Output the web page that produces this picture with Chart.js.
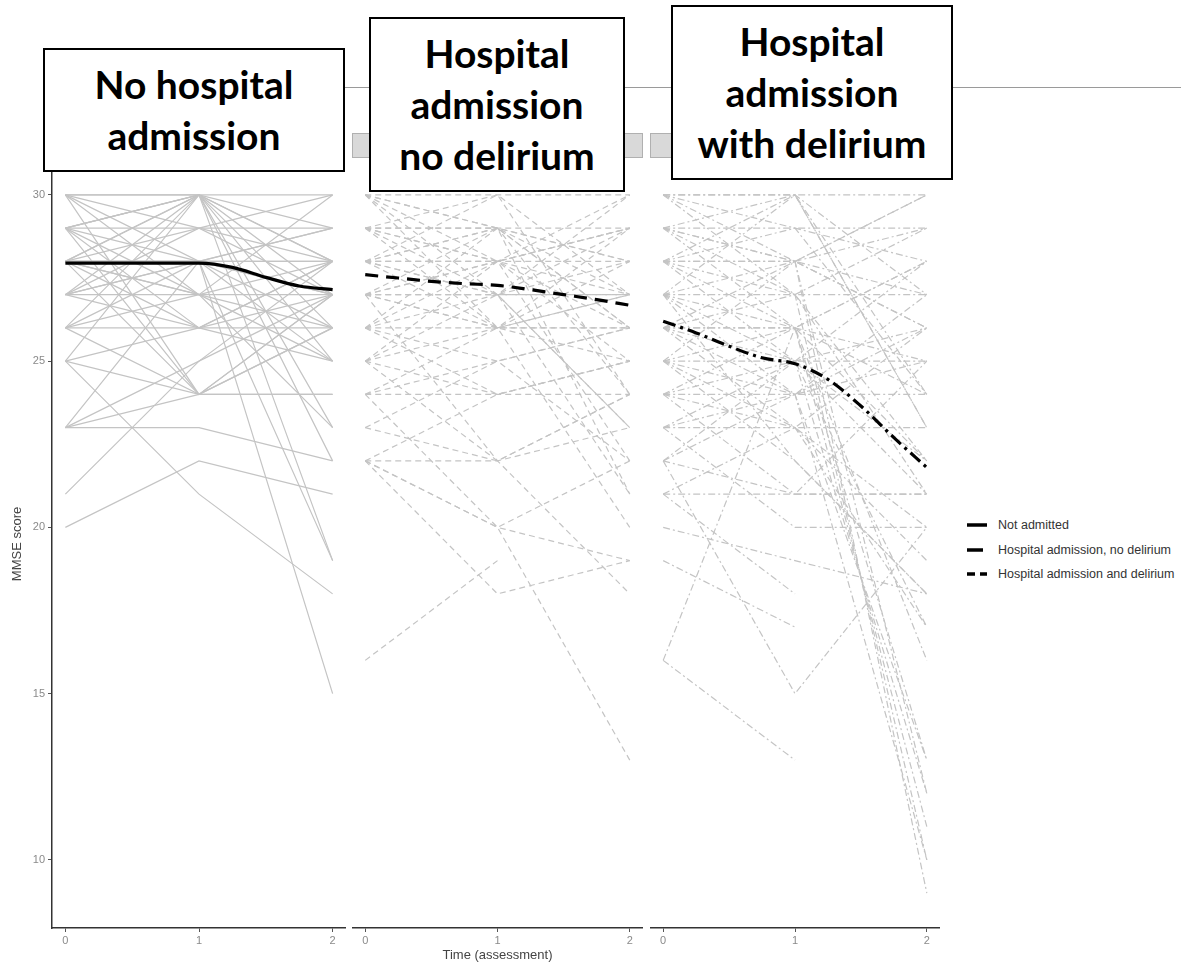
<!DOCTYPE html>
<html><head><meta charset="utf-8">
<script src="https://cdn.jsdelivr.net/npm/chart.js@4/dist/chart.umd.min.js"></script>
<style>
html,body{margin:0;padding:0;background:#fff;width:1181px;height:972px;overflow:hidden;position:relative;font-family:'Liberation Sans',Arial,sans-serif}
.cv{position:absolute;top:150px}
.strip{position:absolute;top:133px;height:25px;background:#d9d9d9;border:1px solid #b0b0b0;box-sizing:border-box}
.hline{position:absolute;left:345px;width:836px;top:87px;height:1px;background:#9a9a9a}
.box{position:absolute;background:#fff;border:2px solid #000;box-sizing:border-box;display:flex;align-items:center;justify-content:center;text-align:center;font-family:Lato,'Open Sans',sans-serif;font-weight:700;font-size:39px;line-height:51px;color:#000;z-index:5}
.leg{position:absolute;left:966px;font-size:12.5px;color:#333;height:16px;line-height:16px;white-space:nowrap}
.leg svg{position:absolute;left:0;top:3px}
.leg span{position:absolute;left:32px;top:0}
</style></head>
<body>
<div class="hline"></div>
<div class="strip" style="left:52px;width:292px"></div>
<div class="strip" style="left:352px;width:291px"></div>
<div class="strip" style="left:650px;width:290px"></div>
<canvas id="p1" class="cv" style="left:0px" width="346" height="822"></canvas>
<canvas id="p2" class="cv" style="left:352px" width="291" height="822"></canvas>
<canvas id="p3" class="cv" style="left:650px" width="290" height="822"></canvas>
<div class="box" style="left:43px;top:48px;width:302px;height:124px">No hospital<br>admission</div>
<div class="box" style="left:369px;top:17px;width:256px;height:175px">Hospital<br>admission<br>no delirium</div>
<div class="box" style="left:671px;top:5px;width:282px;height:175px">Hospital<br>admission<br>with delirium</div>
<div class="leg" style="top:517px"><svg width="24" height="10"><line x1="1" y1="5" x2="21" y2="5" stroke="#000" stroke-width="3.5"/></svg><span>Not admitted</span></div>
<div class="leg" style="top:542px"><svg width="24" height="10"><line x1="1" y1="5" x2="17" y2="5" stroke="#000" stroke-width="3.5"/></svg><span>Hospital admission, no delirium</span></div>
<div class="leg" style="top:566px"><svg width="24" height="10"><line x1="1" y1="5" x2="21" y2="5" stroke="#000" stroke-width="3.5" stroke-dasharray="8,5"/></svg><span>Hospital admission and delirium</span></div>
<script>
const timePoints = [0, 1, 2];
const xTicks = [0, 1, 2];
const yTicks = [10, 15, 20, 25, 30];

// individual MMSE trajectories (time 0, 1, 2)
const notAdmitted = [
  [30,30,30],[30,29,28],[30,28,29],[30,30,27],[30,27,25],[30,24,26],
  [29,29,29],[29,30,28],[29,28,27],[29,27,26],[29,30,25],[29,26,28],[29,30,19],[29,24,27],
  [28,28,28],[28,30,29],[28,28,27],[28,27,30],[28,24,24],[28,26,25],[28,28,15],[28,29,27],[28,30,26],[28,28,19],[28,27,23],
  [27,27,27],[27,29,30],[27,28,26],[27,26,28],[27,30,23],[27,28,25],
  [26,26,26],[26,28,29],[26,27,28],[26,30,22],[26,24,27],
  [25,26,27],[25,21,18],[25,30,28],[25,24,26],
  [23,23,22],[23,24,24],[23,25,27],[23,28,28],
  [21,25,28],[20,22,21]
];
const admittedNoDelirium = [
  [30,30,30],[30,29,28],[30,28,29],[30,27,30],[30,29,26],[30,26,25],
  [29,29,29],[29,30,27],[29,28,26],[29,27,28],[29,26,29],[29,29,24],[29,28,22],
  [28,28,28],[28,29,27],[28,27,29],[28,26,26],[28,30,24],[28,28,30],[28,29,21],[28,27,27],
  [27,27,27],[27,28,25],[27,29,26],[27,26,28],[27,28,29],[27,27,23],[27,26,20],
  [26,26,27],[26,27,23],[26,28,29],[26,29,28],[26,24,25],[26,25,26],
  [25,26,26],[25,24,25],[25,27,21],[25,28,27],[25,22,24],
  [24,25,22],[24,24,24],[24,26,27],[24,20,19],
  [23,25,26],[23,22,24],
  [22,22,23],[22,20,13],[22,18,19],[22,24,25],[22,20,22],
  [16,19,null],[27,22,18]
];
const admittedDelirium = [
  [30,30,30],[30,29,28],[30,28,26],[30,27,29],[30,30,24],
  [29,29,29],[29,30,27],[29,28,9],[29,26,25],[29,28,30],[29,27,22],
  [28,28,30],[28,27,10],[28,29,24],[28,25,22],[28,28,27],[28,26,28],[28,30,23],
  [27,27,27],[27,26,11],[27,30,23],[27,24,26],[27,28,12],[27,25,21],[27,22,18],
  [26,26,28],[26,25,12],[26,27,21],[26,23,19],[26,24,25],[26,26,13],[26,28,26],
  [25,25,25],[25,24,13],[25,22,18],[25,28,29],[25,26,24],[25,23,20],
  [24,24,24],[24,21,21],[24,26,16],[24,23,17],[24,25,26],
  [23,23,23],[23,25,17],[23,20,20],[23,24,10],
  [22,24,27],[22,15,20],[22,21,21],[22,25,28],
  [21,23,26],[21,18,null],[21,21,25],
  [20,19,18],[19,17,null],[16,13,null],[16,26,22]
];

// smoothed group curves
const smoothTimes = [0, 0.25, 0.5, 0.75, 1, 1.25, 1.5, 1.75, 2];
const smoothNotAdmitted = [27.95, 27.95, 27.95, 27.95, 27.95, 27.82, 27.52, 27.26, 27.15];
const smoothNoDelirium = [27.6, 27.5, 27.4, 27.33, 27.28, 27.15, 27.0, 26.85, 26.68];
const smoothDelirium = [26.2, 25.85, 25.45, 25.1, 24.92, 24.45, 23.65, 22.7, 21.8];

const TICKFONT = "'Liberation Sans Narrow','Liberation Sans',Arial,sans-serif";

function trajSets(rows, dash) {
  return rows.map(r => ({
    data: r.map((v, i) => v == null ? null : {x: timePoints[i], y: v}).filter(Boolean),
    borderColor: '#c4c4c4', borderWidth: 1.2, borderDash: dash,
    pointRadius: 0, tension: 0, fill: false, order: 1
  }));
}
function smoothSet(vals, dash) {
  return {
    data: smoothTimes.map((t, i) => ({x: t, y: vals[i]})),
    borderColor: '#000', borderWidth: 3.2, borderDash: dash,
    pointRadius: 0, cubicInterpolationMode: 'monotone', fill: false, order: 0
  };
}
function makePanel(id, rows, dash, sVals, sDash, showY, showXTitle) {
  new Chart(document.getElementById(id), {
    type: 'line',
    data: {datasets: [smoothSet(sVals, sDash)].concat(trajSets(rows, dash))},
    options: {
      responsive: false, animation: false, devicePixelRatio: 1,
      layout: {padding: {top: 10, left: 0, right: 0, bottom: 0}},
      plugins: {legend: {display: false}, tooltip: {enabled: false}},
      elements: {point: {radius: 0}},
      scales: {
        x: {
          type: 'linear', min: -0.1, max: 2.1,
          afterBuildTicks: s => { s.ticks = xTicks.map(v => ({value: v})); },
          afterFit: s => { s.height = 44; },
          grid: {display: true, drawOnChartArea: false, drawTicks: true, tickLength: 4, color: '#555', lineWidth: 1},
          border: {display: true, color: '#333', width: 1.5},
          ticks: {color: '#8a8a8a', font: {family: TICKFONT, size: 11}, padding: 2, maxRotation: 0, autoSkip: false},
          title: {display: showXTitle, text: 'Time (assessment)', color: '#444', font: {family: TICKFONT, size: 13}, padding: {top: 0, bottom: 9}}
        },
        y: {
          type: 'linear', min: 7.95, max: 31.05, display: showY,
          afterBuildTicks: s => { s.ticks = yTicks.map(v => ({value: v})); },
          afterFit: s => { s.width = showY ? 52 : 0; },
          grid: {display: true, drawOnChartArea: false, drawTicks: true, tickLength: 4, color: '#555', lineWidth: 1},
          border: {display: true, color: '#333', width: 1.5},
          ticks: {color: '#8a8a8a', font: {family: TICKFONT, size: 11}, padding: 3},
          title: {display: true, text: 'MMSE score', color: '#444', font: {family: TICKFONT, size: 13}, padding: {top: 10, bottom: 0}}
        }
      }
    }
  });
}
makePanel('p1', notAdmitted, [], smoothNotAdmitted, [], true, false);
makePanel('p2', admittedNoDelirium, [6, 4], smoothNoDelirium, [13, 8], false, true);
makePanel('p3', admittedDelirium, [7, 3, 2, 3], smoothDelirium, [13, 5, 3, 5], false, false);
</script>
</body></html>
